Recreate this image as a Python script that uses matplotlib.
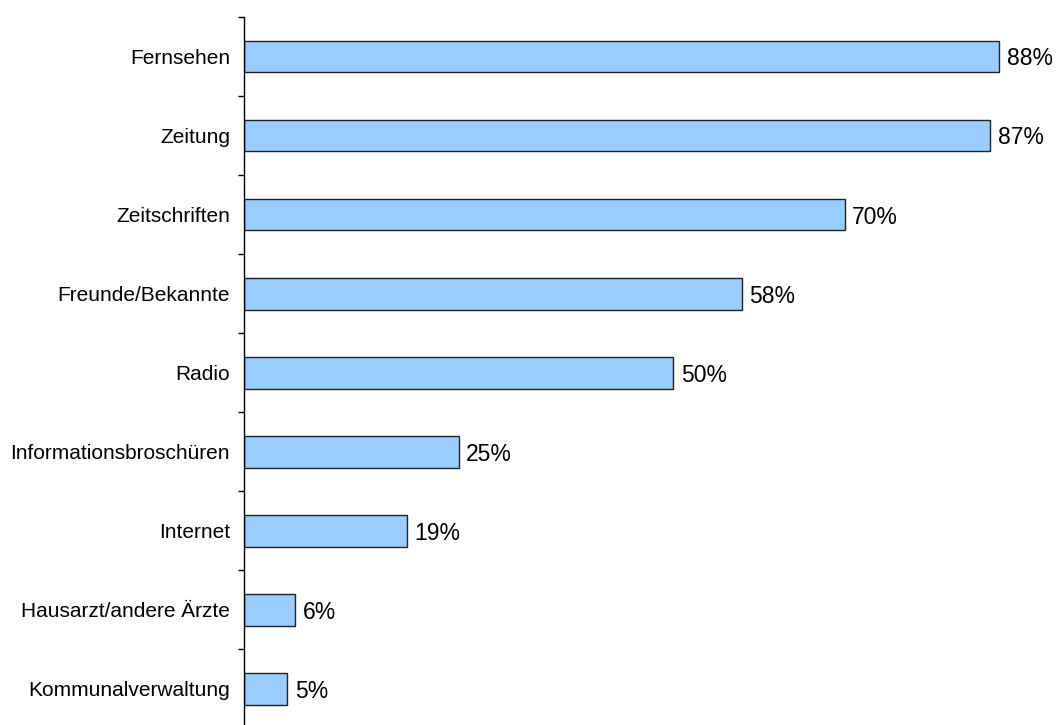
import numpy as np
import matplotlib.pyplot as plt

plt.rcParams["font.family"] = ["Liberation Sans", "DejaVu Sans"]

categories = [
    "Fernsehen",
    "Zeitung",
    "Zeitschriften",
    "Freunde/Bekannte",
    "Radio",
    "Informationsbroschüren",
    "Internet",
    "Hausarzt/andere Ärzte",
    "Kommunalverwaltung",
]
values = [88, 87, 70, 58, 50, 25, 19, 6, 5]

fig = plt.figure(figsize=(10.56, 7.25), dpi=100)
ax = fig.add_axes([244 / 1056, -3.5 / 725, 1 - 244 / 1056, (728.5 - 17) / 725])

y = np.arange(len(categories))
ax.barh(y, values, height=0.4, color="#99CCFF", edgecolor="#222222", linewidth=1.0)

# value labels to the right of each bar
for yi, v in zip(y, values):
    ax.text(v + 0.9, yi + 0.03, f"{v}%", va="center", ha="left", fontsize=16.5)

ax.set_xlim(0, 812 / 8.58)
ax.set_ylim(len(categories) - 0.5, -0.5)

# category labels centred, ticks at the boundaries
ax.set_yticks(y)
ax.set_yticklabels(categories, fontsize=15)
ax.tick_params(axis="y", which="major", length=0, pad=10)
ax.set_yticks(np.arange(-0.5, len(categories) + 0.5, 1), minor=True)
ax.tick_params(axis="y", which="minor", length=4, width=1.0, direction="out")

ax.set_xticks([])
for side in ["top", "right", "bottom"]:
    ax.spines[side].set_visible(False)
ax.spines["left"].set_linewidth(1.0)

fig.savefig("out.png", dpi=100)
